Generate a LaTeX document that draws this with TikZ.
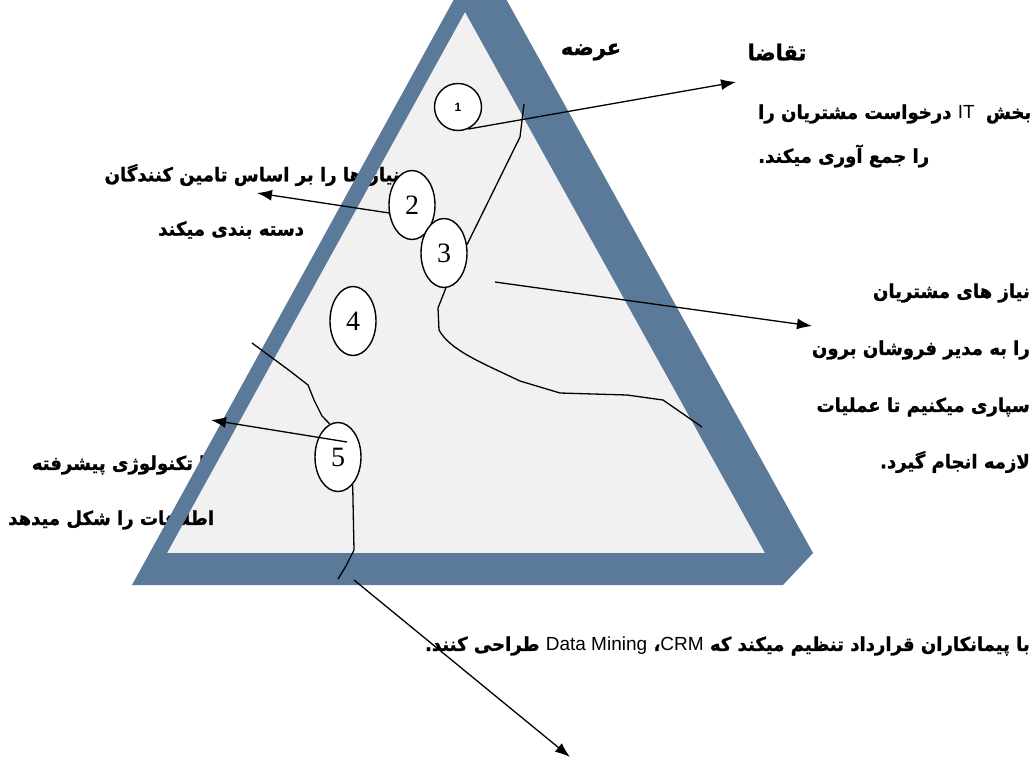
\documentclass[tikz,border=0pt]{standalone}
\usepackage{fontspec}
\setmainfont{Liberation Serif}
\newfontfamily\farsi[Script=Arabic, FakeStretch=0.95, BoldFeatures={FakeBold=1.2}]{DejaVu Sans}
\newfontfamily\latin{Liberation Sans}
\TeXXeTstate=1
\usetikzlibrary{shapes.geometric,arrows.meta}
\definecolor{bandblue}{RGB}{91,121,152}
\definecolor{innergray}{RGB}{241,241,241}
\tikzset{
	fatext/.style={font=\farsi\bfseries\fontsize{19}{22}\selectfont, inner sep=0pt},
	numcirc/.style={ellipse, draw, line width=1.4pt, fill=white, minimum width=46pt, minimum height=69pt, inner sep=0pt, font=\fontsize{28}{28}\selectfont},
	pointer/.style={-{Latex[length=15pt,width=11pt]}, line width=1.3pt},
	sketch/.style={line width=1.3pt}
}
\newcommand{\lat}[1]{\beginL{\latin\mdseries #1}\endL{}}
\begin{document}
\begin{tikzpicture}[x=1pt, y=-1pt]
	\useasboundingbox (0,0) rectangle (1034,761);
	\clip (0,0) rectangle (1034,761);

	% Inner area
	\fill[innergray] (465,12) -- (765,553) -- (167,553) -- cycle;

	% Headings
	\node[fatext, font=\farsi\bfseries\fontsize{22}{24}\selectfont] (arze) at (591,52) {\beginR عرضه\endR};
	\node[fatext, font=\farsi\bfseries\fontsize{22}{24}\selectfont] (taghaza) at (777,52) {\beginR تقاضا\endR};

	% Texts on the right
	\node[fatext, anchor=west] (it1) at (758,114) {\beginR بخش\hspace{5pt} \lat{IT} درخواست مشتریان را\endR};
	\node[fatext, anchor=west] (it2) at (758,156) {\beginR را جمع آوری میکند.\endR};
	\node[fatext, anchor=east] (need1) at (1030,293) {\beginR نیاز های مشتریان\endR};
	\node[fatext, anchor=east] (need2) at (1030,350) {\beginR را به مدیر فروشان برون\endR};
	\node[fatext, anchor=east] (need3) at (1030,407) {\beginR سپاری میکنیم تا عملیات\endR};
	\node[fatext, anchor=east] (need4) at (1030,462) {\beginR لازمه انجام گیرد.\endR};

	% Texts on the left
	\node[fatext, anchor=east] (sup1) at (400,175) {\beginR نیاز ها را بر اساس تامین کنندگان\endR};
	\node[fatext, anchor=west] (sup2) at (158,230) {\beginR دسته بندی میکند\endR};
	\node[fatext, anchor=east] (tech1) at (213,465) {\beginR با تکنولوژی پیشرفته\endR};
	\node[fatext, anchor=west] (tech2) at (8,520) {\beginR اطلاعات را شکل میدهد\endR};

	% Text at the bottom
	\node[fatext, anchor=east] (crm) at (1030,646) {\beginR با پیمانکاران قرارداد تنظیم میکند که \lat{CRM}، \lat{Data Mining} طراحی کنند.\endR};

	% Frame
	\fill[bandblue, even odd rule] (480,-48) -- (813,553) -- (783,585) -- (132,585) -- cycle
		(465,12) -- (765,553) -- (167,553) -- cycle;

	% Circles
	\node[numcirc, minimum width=47pt, minimum height=47pt, font=\latin\bfseries\fontsize{12}{12}\selectfont] (c1) at (458,107) {1};
	\node[numcirc] (c2) at (412,205) {2};
	\node[numcirc] (c3) at (444,253) {3};
	\node[numcirc] (c4) at (353,321) {4};
	\node[numcirc] (c5) at (338,457) {5};

	% Lines
	\draw[sketch] (524,104) -- (520,137) -- (c3.20);
	\draw[sketch] (c3.-87) -- (438,308) -- (439,330) .. controls (450,350) and (480,362) .. (520,381) -- (560,393) -- (627,395) -- (663,400) -- (702,427);
	\draw[sketch] (252,343) -- (290,371) -- (308,385) -- (314,400) -- (322,416) -- (c5.104);
	\draw[sketch] (c5.-62) -- (354,550) -- (346,566) -- (338,579);

	% Arrows
	\coordinate (t1) at (736,82);
	\coordinate (t2) at (257,193);
	\coordinate (s3) at (495,282);
	\coordinate (t3) at (812,326);
	\coordinate (s5) at (347,442);
	\coordinate (t5) at (211,420);
	\coordinate (s6) at (354,580);
	\coordinate (t6) at (570,757);
	\draw[pointer] (c1.-66) -- (t1);
	\draw[pointer] (c2.199) -- (t2);
	\draw[pointer] (s3) -- (t3);
	\draw[pointer] (s5) -- (t5);
	\draw[pointer] (s6) -- (t6);
\end{tikzpicture}
\end{document}
